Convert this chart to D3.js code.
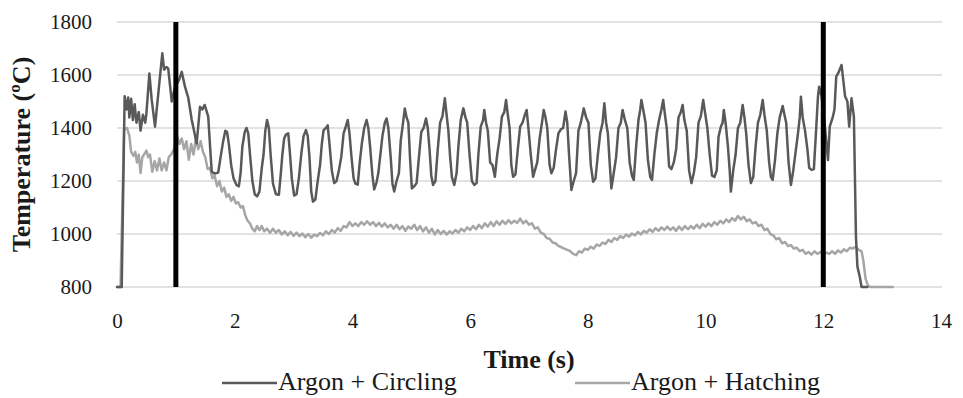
<!DOCTYPE html>
<html>
<head>
<meta charset="utf-8">
<script src="https://cdn.jsdelivr.net/npm/d3@7"></script>
<style>
  html, body { margin: 0; padding: 0; background: #fff; }
  svg { display: block; }
  text { font-family: "Liberation Serif", "Times New Roman", serif; fill: #1a1a1a; }
</style>
</head>
<body>
<svg id="chart" width="963" height="398"></svg>
<script>
// Temperature traces: [time (s), temperature (ºC)]
const circling = [
  [0,800],[0.08,800],[0.12,1380],[0.13,1520],[0.16,1470],[0.19,1515],[0.21,1440],[0.24,1510],
  [0.27,1430],[0.30,1490],[0.33,1420],[0.37,1460],[0.40,1390],[0.44,1450],[0.48,1420],[0.50,1455],
  [0.55,1606],[0.59,1506],[0.646,1405],[0.73,1594],[0.77,1682],[0.80,1620],[0.84,1630],[0.87,1625],
  [0.93,1500],[0.98,1550],[1.053,1581],[1.10,1612],[1.155,1556],[1.21,1515],[1.27,1430],[1.354,1342],
  [1.41,1480],[1.45,1470],[1.49,1487],[1.55,1443],[1.59,1300],[1.61,1235],[1.66,1228],[1.72,1232],
  [1.76,1290],[1.80,1345],[1.84,1390],[1.87,1385],[1.90,1340],[1.94,1260],[1.98,1210],[2.03,1185],
  [2.07,1180],[2.10,1230],[2.13,1330],[2.17,1385],[2.20,1400],[2.23,1380],[2.26,1300],[2.30,1200],
  [2.34,1150],[2.38,1142],[2.42,1160],[2.46,1250],[2.49,1300],[2.52,1390],[2.55,1430],[2.58,1400],
  [2.61,1300],[2.65,1190],[2.70,1150],[2.75,1148],[2.78,1220],[2.81,1300],[2.84,1360],[2.87,1375],
  [2.91,1380],[2.94,1300],[2.97,1210],[3.01,1145],[3.05,1150],[3.09,1210],[3.13,1300],[3.17,1370],
  [3.21,1392],[3.24,1370],[3.27,1290],[3.30,1160],[3.33,1122],[3.37,1130],[3.41,1200],[3.45,1260],
  [3.48,1340],[3.51,1392],[3.55,1400],[3.58,1410],[3.61,1340],[3.65,1240],[3.69,1192],[3.73,1200],
  [3.77,1240],[3.81,1290],[3.85,1380],[3.88,1400],[3.92,1430],[3.95,1380],[3.98,1300],[4.02,1210],
  [4.05,1190],[4.09,1186],[4.12,1260],[4.16,1342],[4.20,1400],[4.24,1430],[4.27,1400],[4.30,1330],
  [4.34,1220],[4.37,1168],[4.41,1195],[4.44,1230],[4.48,1310],[4.51,1370],[4.55,1420],[4.58,1436],
  [4.61,1400],[4.65,1290],[4.68,1190],[4.71,1160],[4.75,1200],[4.79,1230],[4.82,1350],[4.86,1420],
  [4.89,1474],[4.92,1440],[4.95,1420],[4.98,1280],[5.01,1172],[5.05,1180],[5.09,1192],[5.13,1290],
  [5.17,1385],[5.21,1400],[5.25,1436],[5.28,1400],[5.31,1320],[5.34,1220],[5.37,1185],[5.41,1200],
  [5.45,1320],[5.49,1420],[5.53,1445],[5.57,1512],[5.60,1450],[5.63,1390],[5.66,1290],[5.69,1215],
  [5.73,1185],[5.77,1230],[5.80,1330],[5.84,1430],[5.885,1474],[5.92,1440],[5.95,1420],[5.99,1300],
  [6.03,1200],[6.07,1185],[6.11,1192],[6.14,1300],[6.18,1405],[6.22,1430],[6.24,1468],[6.27,1420],
  [6.30,1390],[6.34,1270],[6.38,1260],[6.42,1216],[6.46,1300],[6.50,1360],[6.54,1443],[6.58,1460],
  [6.61,1506],[6.64,1450],[6.67,1400],[6.70,1260],[6.73,1216],[6.77,1225],[6.81,1320],[6.85,1405],
  [6.89,1420],[6.93,1450],[6.96,1468],[6.99,1400],[7.03,1300],[7.07,1216],[7.10,1240],[7.14,1270],
  [7.18,1360],[7.22,1420],[7.25,1468],[7.28,1440],[7.31,1400],[7.35,1260],[7.38,1229],[7.42,1250],
  [7.46,1320],[7.50,1380],[7.54,1395],[7.58,1400],[7.62,1462],[7.65,1420],[7.68,1300],[7.72,1166],
  [7.76,1200],[7.80,1230],[7.84,1390],[7.88,1420],[7.93,1474],[7.97,1440],[8.01,1420],[8.05,1260],
  [8.09,1197],[8.13,1210],[8.17,1300],[8.21,1380],[8.25,1420],[8.28,1493],[8.31,1420],[8.34,1380],
  [8.37,1270],[8.40,1172],[8.44,1230],[8.48,1290],[8.52,1400],[8.56,1420],[8.59,1468],[8.63,1430],
  [8.67,1400],[8.71,1270],[8.75,1220],[8.78,1204],[8.82,1330],[8.86,1430],[8.89,1470],[8.91,1506],
  [8.94,1470],[8.98,1420],[9.02,1280],[9.06,1215],[9.09,1204],[9.13,1300],[9.17,1380],[9.21,1430],
  [9.25,1470],[9.28,1506],[9.31,1450],[9.34,1400],[9.38,1255],[9.42,1245],[9.46,1270],[9.50,1320],
  [9.54,1440],[9.58,1460],[9.61,1487],[9.64,1430],[9.68,1390],[9.72,1240],[9.76,1192],[9.80,1230],
  [9.84,1290],[9.88,1420],[9.92,1445],[9.96,1506],[9.99,1460],[10.03,1400],[10.07,1300],[10.11,1220],
  [10.15,1215],[10.19,1240],[10.22,1367],[10.26,1405],[10.29,1420],[10.31,1468],[10.34,1420],[10.38,1330],
  [10.41,1240],[10.43,1160],[10.47,1240],[10.51,1300],[10.55,1400],[10.59,1420],[10.63,1487],[10.66,1440],
  [10.69,1380],[10.73,1260],[10.77,1192],[10.81,1215],[10.85,1330],[10.89,1420],[10.93,1450],[10.97,1506],
  [11.00,1450],[11.04,1390],[11.08,1270],[11.11,1215],[11.14,1204],[11.18,1280],[11.22,1380],[11.26,1440],
  [11.31,1483],[11.34,1450],[11.37,1420],[11.41,1270],[11.45,1185],[11.49,1240],[11.53,1310],[11.57,1380],
  [11.60,1440],[11.62,1518],[11.65,1440],[11.69,1390],[11.73,1320],[11.76,1250],[11.80,1242],[11.84,1245],
  [11.88,1400],[11.91,1520],[11.93,1556],[11.97,1520],[12.03,1400],[12.08,1279],[12.11,1405],[12.16,1440],
  [12.19,1470],[12.22,1594],[12.26,1610],[12.31,1638],[12.34,1580],[12.37,1520],[12.41,1500],[12.44,1405],
  [12.48,1512],[12.52,1443],[12.555,990],[12.58,877],[12.62,839],[12.65,800],[12.75,800]
];

const hatching = [
  [0,800],[0.06,800],[0.12,1395],[0.17,1400],[0.21,1370],[0.24,1310],[0.28,1295],[0.31,1310],
  [0.34,1270],[0.37,1300],[0.40,1230],[0.43,1290],[0.46,1300],[0.50,1315],[0.53,1290],[0.56,1300],
  [0.60,1235],[0.64,1275],[0.68,1240],[0.72,1285],[0.76,1240],[0.80,1270],[0.84,1240],[0.88,1290],
  [0.92,1300],[0.97,1320],[1.02,1370],[1.06,1340],[1.10,1360],[1.14,1320],[1.18,1350],[1.22,1280],
  [1.26,1340],[1.30,1300],[1.34,1360],[1.38,1320],[1.42,1350],[1.46,1310],[1.50,1290],[1.54,1245],
  [1.58,1250],[1.62,1210],[1.66,1220],[1.70,1180],[1.74,1200],[1.78,1160],[1.82,1175],[1.86,1140],
  [1.90,1150],[1.94,1125],[1.98,1140],[2.02,1115],[2.06,1120],[2.10,1100],[2.14,1105],[2.18,1070],
  [2.22,1050],[2.26,1040],[2.30,1020],[2.34,1010],[2.38,1030],[2.42,1015],[2.46,1030],[2.50,1010],
  [2.55,1020],[2.60,1005],[2.65,1020],[2.70,1005],[2.75,1015],[2.80,998],[2.85,1010],[2.90,995],
  [2.95,1008],[3.00,993],[3.05,1005],[3.10,992],[3.15,1002],[3.20,988],[3.25,1000],[3.30,986],
  [3.35,998],[3.40,992],[3.45,1004],[3.50,995],[3.55,1010],[3.60,1000],[3.65,1015],[3.70,1005],
  [3.75,1022],[3.80,1012],[3.85,1030],[3.90,1025],[3.95,1045],[4.00,1030],[4.05,1040],[4.10,1030],
  [4.15,1045],[4.20,1035],[4.25,1048],[4.30,1035],[4.35,1045],[4.40,1030],[4.45,1042],[4.50,1028],
  [4.55,1040],[4.60,1025],[4.65,1035],[4.70,1020],[4.75,1035],[4.80,1018],[4.85,1030],[4.90,1012],
  [4.95,1028],[5.00,1020],[5.05,1035],[5.10,1015],[5.15,1030],[5.20,1010],[5.25,1025],[5.30,1005],
  [5.35,1020],[5.40,998],[5.45,1015],[5.50,1000],[5.55,1012],[5.60,998],[5.65,1010],[5.70,1002],
  [5.75,1015],[5.80,1005],[5.85,1020],[5.90,1010],[5.95,1025],[6.00,1015],[6.05,1030],[6.10,1018],
  [6.15,1035],[6.20,1022],[6.25,1040],[6.30,1028],[6.35,1045],[6.40,1030],[6.45,1048],[6.50,1035],
  [6.55,1050],[6.60,1038],[6.65,1052],[6.70,1040],[6.75,1050],[6.80,1042],[6.85,1058],[6.90,1040],
  [6.95,1050],[7.00,1035],[7.05,1040],[7.10,1020],[7.15,1025],[7.20,1005],[7.25,1000],[7.30,985],
  [7.35,982],[7.40,968],[7.45,965],[7.50,955],[7.55,950],[7.60,945],[7.65,940],[7.70,935],
  [7.75,925],[7.80,920],[7.85,935],[7.90,930],[7.95,945],[8.00,940],[8.05,952],[8.10,945],
  [8.15,960],[8.20,955],[8.25,968],[8.30,962],[8.35,978],[8.40,970],[8.45,985],[8.50,978],
  [8.55,992],[8.60,985],[8.65,998],[8.70,990],[8.75,1002],[8.80,995],[8.85,1008],[8.90,998],
  [8.95,1012],[9.00,1005],[9.05,1018],[9.10,1008],[9.15,1022],[9.20,1012],[9.25,1025],[9.30,1015],
  [9.35,1028],[9.40,1015],[9.45,1025],[9.50,1012],[9.55,1028],[9.60,1015],[9.65,1030],[9.70,1018],
  [9.75,1030],[9.80,1020],[9.85,1035],[9.90,1022],[9.95,1038],[10.00,1028],[10.05,1040],[10.10,1030],
  [10.15,1045],[10.20,1035],[10.25,1050],[10.30,1040],[10.35,1055],[10.40,1045],[10.45,1060],[10.50,1050],
  [10.55,1068],[10.60,1055],[10.65,1065],[10.70,1048],[10.75,1055],[10.80,1040],[10.85,1045],[10.90,1030],
  [10.95,1035],[11.00,1015],[11.05,1020],[11.10,1000],[11.15,995],[11.20,980],[11.25,985],[11.30,965],
  [11.35,970],[11.40,955],[11.45,958],[11.50,945],[11.55,948],[11.60,935],[11.65,940],[11.70,925],
  [11.75,932],[11.80,922],[11.85,935],[11.90,925],[11.95,932],[12.00,922],[12.05,930],[12.10,925],
  [12.15,935],[12.20,925],[12.25,938],[12.30,930],[12.35,942],[12.40,935],[12.45,948],[12.50,945],
  [12.55,952],[12.60,940],[12.65,935],[12.68,900],[12.72,830],[12.76,805],[12.80,800],[13.18,800]
];

// Process window markers (s)
const markers = [1, 12];

const xTicks = [0, 2, 4, 6, 8, 10, 12, 14];
const yTicks = [800, 1000, 1200, 1400, 1600, 1800];

const seriesNames = ["Argon + Circling", "Argon + Hatching"];
const seriesColors = ["#595959", "#a6a6a6"];

const svg = d3.select("#chart");
svg.append("rect").attr("width", 963).attr("height", 398).attr("fill", "#fff");

const x = d3.scaleLinear().domain([0, 14]).range([117, 941]);
const y = d3.scaleLinear().domain([800, 1800]).range([287, 22]);

// horizontal gridlines
svg.append("g").selectAll("line").data(yTicks).join("line")
  .attr("x1", x(0)).attr("x2", x(14) + 1)
  .attr("y1", d => y(d)).attr("y2", d => y(d))
  .attr("stroke", "#d9d9d9").attr("stroke-width", 1.4);

// y axis labels
const yAxis = svg.append("g").attr("transform", `translate(${x(0)},0)`)
  .call(d3.axisLeft(y).tickValues(yTicks).tickSize(0).tickPadding(25).tickFormat(d3.format("d")));
yAxis.select(".domain").remove();
yAxis.selectAll("text").style("font-size", "21px").attr("fill", "#1a1a1a")
  .style("font-family", "'Liberation Serif', 'Times New Roman', serif");

// x axis labels
const xAxis = svg.append("g").attr("transform", `translate(0,${y(800)})`)
  .call(d3.axisBottom(x).tickValues(xTicks).tickSize(0).tickPadding(26).tickFormat(d3.format("d")));
xAxis.select(".domain").remove();
xAxis.selectAll("text").style("font-size", "21px").attr("fill", "#1a1a1a")
  .style("font-family", "'Liberation Serif', 'Times New Roman', serif");

// series: hatching underneath, circling on top
const line = d3.line().x(d => x(d[0])).y(d => y(d[1]));
[[hatching, 1], [circling, 0]].forEach(([data, i]) => {
  svg.append("path").datum(data)
    .attr("d", line)
    .attr("fill", "none")
    .attr("stroke", seriesColors[i])
    .attr("stroke-width", 2.5)
    .attr("stroke-linejoin", "round")
    .attr("stroke-linecap", "round");
});

// window markers
svg.append("g").selectAll("line").data(markers).join("line")
  .attr("x1", d => x(d)).attr("x2", d => x(d))
  .attr("y1", y(1800)).attr("y2", y(800))
  .attr("stroke", "#000").attr("stroke-width", 5);

// axis titles
svg.append("text")
  .attr("x", 529).attr("y", 368)
  .attr("text-anchor", "middle")
  .style("font-size", "26px").style("font-weight", "bold")
  .text("Time (s)");

svg.append("text")
  .attr("transform", `translate(30,${(y(800) + y(1800)) / 2}) rotate(-90)`)
  .attr("text-anchor", "middle")
  .style("font-size", "26px").style("font-weight", "bold")
  .text("Temperature (ºC)");

// legend
const legendItems = [
  { x0: 222, name: seriesNames[0], color: seriesColors[0] },
  { x0: 575, name: seriesNames[1], color: seriesColors[1] }
];
const lg = svg.append("g");
legendItems.forEach(it => {
  lg.append("line")
    .attr("x1", it.x0).attr("x2", it.x0 + 55)
    .attr("y1", 383).attr("y2", 383)
    .attr("stroke", it.color).attr("stroke-width", 2.6);
  lg.append("text")
    .attr("x", it.x0 + 56).attr("y", 390)
    .style("font-size", "26px")
    .text(it.name);
});
</script>
</body>
</html>
